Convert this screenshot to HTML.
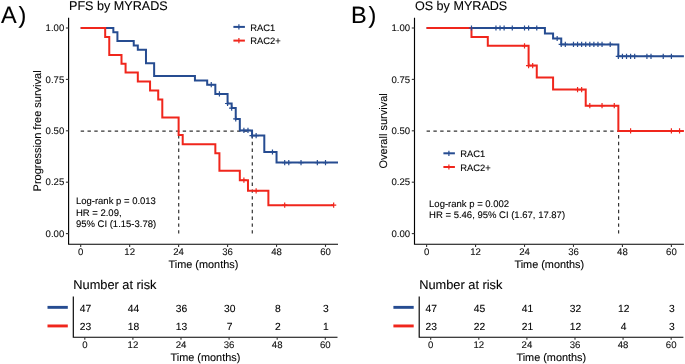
<!DOCTYPE html>
<html><head><meta charset="utf-8"><style>
html,body{margin:0;padding:0;background:#fff;}
svg{display:block;will-change:transform;}
.t{font-family:"Liberation Sans", sans-serif;fill:#000;text-rendering:geometricPrecision;stroke:#000;stroke-width:0.1px;}
.tk{fill:#111;}
</style></head><body>
<svg width="685" height="364" viewBox="0 0 685 364">
<rect width="685" height="364" fill="#fff"/>
<g>
<text x="0.9" y="22.7" font-size="23.5" class="t">A</text>
<text x="18.6" y="22.7" font-size="23.5" class="t">)</text>
<text x="351.0" y="22.7" font-size="23.5" class="t">B</text>
<text x="368.6" y="22.7" font-size="23.5" class="t">)</text>
<g id="A">
<text x="69.00" y="9.90" font-size="12.6" class="t">PFS by MYRADS</text>
<path d="M80.70,131.10H252.30" stroke="#333333" stroke-width="1.2" stroke-dasharray="3.4 3.4" fill="none"/>
<path d="M178.70,233.60V131.10" stroke="#333333" stroke-width="1.2" stroke-dasharray="3.4 3.4" fill="none"/>
<path d="M252.30,233.60V131.10" stroke="#333333" stroke-width="1.2" stroke-dasharray="3.4 3.4" fill="none"/>
<path d="M68.60,17.70V244.20H338.00" stroke="#000" stroke-width="1.15" fill="none"/>
<path d="M65.90,233.60H68.60" stroke="#333" stroke-width="1.1"/>
<text x="64.30" y="236.80" font-size="9.6" class="t tk" text-anchor="end">0.00</text>
<path d="M65.90,182.20H68.60" stroke="#333" stroke-width="1.1"/>
<text x="64.30" y="185.40" font-size="9.6" class="t tk" text-anchor="end">0.25</text>
<path d="M65.90,130.80H68.60" stroke="#333" stroke-width="1.1"/>
<text x="64.30" y="134.00" font-size="9.6" class="t tk" text-anchor="end">0.50</text>
<path d="M65.90,79.40H68.60" stroke="#333" stroke-width="1.1"/>
<text x="64.30" y="82.60" font-size="9.6" class="t tk" text-anchor="end">0.75</text>
<path d="M65.90,28.00H68.60" stroke="#333" stroke-width="1.1"/>
<text x="64.30" y="31.20" font-size="9.6" class="t tk" text-anchor="end">1.00</text>
<path d="M80.70,244.20V246.90" stroke="#333" stroke-width="1.1"/>
<text x="80.70" y="255.40" font-size="9.6" class="t tk" text-anchor="middle">0</text>
<path d="M129.66,244.20V246.90" stroke="#333" stroke-width="1.1"/>
<text x="129.66" y="255.40" font-size="9.6" class="t tk" text-anchor="middle">12</text>
<path d="M178.62,244.20V246.90" stroke="#333" stroke-width="1.1"/>
<text x="178.62" y="255.40" font-size="9.6" class="t tk" text-anchor="middle">24</text>
<path d="M227.58,244.20V246.90" stroke="#333" stroke-width="1.1"/>
<text x="227.58" y="255.40" font-size="9.6" class="t tk" text-anchor="middle">36</text>
<path d="M276.54,244.20V246.90" stroke="#333" stroke-width="1.1"/>
<text x="276.54" y="255.40" font-size="9.6" class="t tk" text-anchor="middle">48</text>
<path d="M325.50,244.20V246.90" stroke="#333" stroke-width="1.1"/>
<text x="325.50" y="255.40" font-size="9.6" class="t tk" text-anchor="middle">60</text>
<text x="203.40" y="267.70" font-size="10.9" class="t" text-anchor="middle">Time (months)</text>
<text transform="translate(41.2,130.9) rotate(-90)" font-size="11" class="t" text-anchor="middle">Progression free survival</text>
<text x="75.90" y="203.90" font-size="9.5" class="t">Log-rank p = 0.013</text>
<text x="75.90" y="215.60" font-size="9.5" class="t">HR = 2.09,</text>
<text x="75.90" y="227.30" font-size="9.5" class="t">95% CI (1.15-3.78)</text>
<path d="M233.40,26.90H244.90" stroke="#264c91" stroke-width="2"/>
<path d="M238.90,24.30V29.50" stroke="#264c91" stroke-width="1.2"/>
<text x="250.20" y="30.50" font-size="9.4" class="t">RAC1</text>
<path d="M233.40,40.60H244.90" stroke="#f0261c" stroke-width="2"/>
<path d="M238.90,38.00V43.20" stroke="#f0261c" stroke-width="1.2"/>
<text x="250.20" y="44.20" font-size="9.4" class="t">RAC2+</text>
<text x="73.30" y="289.20" font-size="12.8" class="t">Number at risk</text>
<path d="M73.3,296.4V337.2H337.5" stroke="#000" stroke-width="1.15" fill="none"/>
<rect x="47.5" y="305.9" width="20.3" height="2.9" fill="#264c91"/>
<rect x="47.5" y="324.5" width="20.3" height="2.9" fill="#f0261c"/>
<text x="85.40" y="311.50" font-size="10.3" class="t" text-anchor="middle">47</text>
<text x="85.40" y="329.90" font-size="10.3" class="t" text-anchor="middle">23</text>
<path d="M84.80,337.2V339.8" stroke="#333" stroke-width="1.1"/>
<text x="84.80" y="348.30" font-size="9.6" class="t tk" text-anchor="middle">0</text>
<text x="133.50" y="311.50" font-size="10.3" class="t" text-anchor="middle">44</text>
<text x="133.50" y="329.90" font-size="10.3" class="t" text-anchor="middle">18</text>
<path d="M132.90,337.2V339.8" stroke="#333" stroke-width="1.1"/>
<text x="132.90" y="348.30" font-size="9.6" class="t tk" text-anchor="middle">12</text>
<text x="181.59" y="311.50" font-size="10.3" class="t" text-anchor="middle">36</text>
<text x="181.59" y="329.90" font-size="10.3" class="t" text-anchor="middle">13</text>
<path d="M180.99,337.2V339.8" stroke="#333" stroke-width="1.1"/>
<text x="180.99" y="348.30" font-size="9.6" class="t tk" text-anchor="middle">24</text>
<text x="229.69" y="311.50" font-size="10.3" class="t" text-anchor="middle">30</text>
<text x="229.69" y="329.90" font-size="10.3" class="t" text-anchor="middle">7</text>
<path d="M229.09,337.2V339.8" stroke="#333" stroke-width="1.1"/>
<text x="229.09" y="348.30" font-size="9.6" class="t tk" text-anchor="middle">36</text>
<text x="277.78" y="311.50" font-size="10.3" class="t" text-anchor="middle">8</text>
<text x="277.78" y="329.90" font-size="10.3" class="t" text-anchor="middle">2</text>
<path d="M277.18,337.2V339.8" stroke="#333" stroke-width="1.1"/>
<text x="277.18" y="348.30" font-size="9.6" class="t tk" text-anchor="middle">48</text>
<text x="325.88" y="311.50" font-size="10.3" class="t" text-anchor="middle">3</text>
<text x="325.88" y="329.90" font-size="10.3" class="t" text-anchor="middle">1</text>
<path d="M325.28,337.2V339.8" stroke="#333" stroke-width="1.1"/>
<text x="325.28" y="348.30" font-size="9.6" class="t tk" text-anchor="middle">60</text>
<text x="205.40" y="360.50" font-size="10.9" class="t" text-anchor="middle">Time (months)</text>
<path d="M80.70,28.00H113.34V32.30H117.42V40.90H133.74V45.50H137.82V49.70H145.98V63.20H154.14V76.00H194.94V80.60H207.18V84.70H215.34V93.90H227.58V103.50H231.66V108.10H235.74V118.90H239.82V130.40H252.06V135.60H264.30V152.00H276.54V162.60H338.00" stroke="#264c91" stroke-width="2.0" fill="none" stroke-linejoin="miter"/>
<path d="M80.70,28.00H105.18V36.90H109.26V54.90H121.50V63.70H125.58V72.60H137.82V81.40H150.06V90.50H158.22V99.50H162.30V117.40H178.62V135.00H182.70V144.20H215.34V153.20H219.42V170.70H239.82V180.20H247.98V190.80H268.38V205.20H333.66" stroke="#f0261c" stroke-width="2.0" fill="none" stroke-linejoin="miter"/>
<path d="M208.66,84.70H213.86M211.26,82.10V87.30" stroke="#264c91" stroke-width="1.2" fill="none"/>
<path d="M216.82,93.90H222.02M219.42,91.30V96.50" stroke="#264c91" stroke-width="1.2" fill="none"/>
<path d="M224.98,103.50H230.18M227.58,100.90V106.10" stroke="#264c91" stroke-width="1.2" fill="none"/>
<path d="M229.06,108.10H234.26M231.66,105.50V110.70" stroke="#264c91" stroke-width="1.2" fill="none"/>
<path d="M233.14,118.90H238.34M235.74,116.30V121.50" stroke="#264c91" stroke-width="1.2" fill="none"/>
<path d="M241.30,130.40H246.50M243.90,127.80V133.00" stroke="#264c91" stroke-width="1.2" fill="none"/>
<path d="M245.38,130.40H250.58M247.98,127.80V133.00" stroke="#264c91" stroke-width="1.2" fill="none"/>
<path d="M249.46,135.60H254.66M252.06,133.00V138.20" stroke="#264c91" stroke-width="1.2" fill="none"/>
<path d="M253.54,135.60H258.74M256.14,133.00V138.20" stroke="#264c91" stroke-width="1.2" fill="none"/>
<path d="M269.86,152.00H275.06M272.46,149.40V154.60" stroke="#264c91" stroke-width="1.2" fill="none"/>
<path d="M282.10,162.60H287.30M284.70,160.00V165.20" stroke="#264c91" stroke-width="1.2" fill="none"/>
<path d="M286.18,162.60H291.38M288.78,160.00V165.20" stroke="#264c91" stroke-width="1.2" fill="none"/>
<path d="M298.42,162.60H303.62M301.02,160.00V165.20" stroke="#264c91" stroke-width="1.2" fill="none"/>
<path d="M314.74,162.60H319.94M317.34,160.00V165.20" stroke="#264c91" stroke-width="1.2" fill="none"/>
<path d="M322.90,162.60H328.10M325.50,160.00V165.20" stroke="#264c91" stroke-width="1.2" fill="none"/>
<path d="M241.30,180.20H246.50M243.90,177.60V182.80" stroke="#f0261c" stroke-width="1.2" fill="none"/>
<path d="M253.54,190.80H258.74M256.14,188.20V193.40" stroke="#f0261c" stroke-width="1.2" fill="none"/>
<path d="M282.10,205.20H287.30M284.70,202.60V207.80" stroke="#f0261c" stroke-width="1.2" fill="none"/>
<path d="M331.06,205.20H336.26M333.66,202.60V207.80" stroke="#f0261c" stroke-width="1.2" fill="none"/>
</g>
<g id="B" transform="translate(345.9,0)">
<text x="69.00" y="9.90" font-size="12.6" class="t">OS by MYRADS</text>
<path d="M80.70,131.10H272.70" stroke="#333333" stroke-width="1.2" stroke-dasharray="3.4 3.4" fill="none"/>
<path d="M272.70,233.60V131.10" stroke="#333333" stroke-width="1.2" stroke-dasharray="3.4 3.4" fill="none"/>
<path d="M68.60,17.70V244.20H338.00" stroke="#000" stroke-width="1.15" fill="none"/>
<path d="M65.90,233.60H68.60" stroke="#333" stroke-width="1.1"/>
<text x="64.30" y="236.80" font-size="9.6" class="t tk" text-anchor="end">0.00</text>
<path d="M65.90,182.20H68.60" stroke="#333" stroke-width="1.1"/>
<text x="64.30" y="185.40" font-size="9.6" class="t tk" text-anchor="end">0.25</text>
<path d="M65.90,130.80H68.60" stroke="#333" stroke-width="1.1"/>
<text x="64.30" y="134.00" font-size="9.6" class="t tk" text-anchor="end">0.50</text>
<path d="M65.90,79.40H68.60" stroke="#333" stroke-width="1.1"/>
<text x="64.30" y="82.60" font-size="9.6" class="t tk" text-anchor="end">0.75</text>
<path d="M65.90,28.00H68.60" stroke="#333" stroke-width="1.1"/>
<text x="64.30" y="31.20" font-size="9.6" class="t tk" text-anchor="end">1.00</text>
<path d="M80.70,244.20V246.90" stroke="#333" stroke-width="1.1"/>
<text x="80.70" y="255.40" font-size="9.6" class="t tk" text-anchor="middle">0</text>
<path d="M129.66,244.20V246.90" stroke="#333" stroke-width="1.1"/>
<text x="129.66" y="255.40" font-size="9.6" class="t tk" text-anchor="middle">12</text>
<path d="M178.62,244.20V246.90" stroke="#333" stroke-width="1.1"/>
<text x="178.62" y="255.40" font-size="9.6" class="t tk" text-anchor="middle">24</text>
<path d="M227.58,244.20V246.90" stroke="#333" stroke-width="1.1"/>
<text x="227.58" y="255.40" font-size="9.6" class="t tk" text-anchor="middle">36</text>
<path d="M276.54,244.20V246.90" stroke="#333" stroke-width="1.1"/>
<text x="276.54" y="255.40" font-size="9.6" class="t tk" text-anchor="middle">48</text>
<path d="M325.50,244.20V246.90" stroke="#333" stroke-width="1.1"/>
<text x="325.50" y="255.40" font-size="9.6" class="t tk" text-anchor="middle">60</text>
<text x="203.40" y="267.70" font-size="10.9" class="t" text-anchor="middle">Time (months)</text>
<text transform="translate(41.2,130.9) rotate(-90)" font-size="11" class="t" text-anchor="middle">Overall survival</text>
<text x="83.20" y="206.70" font-size="9.5" class="t">Log-rank p = 0.002</text>
<text x="83.20" y="217.90" font-size="9.5" class="t">HR = 5.46, 95% CI (1.67, 17.87)</text>
<path d="M97.50,153.30H109.00" stroke="#264c91" stroke-width="2"/>
<path d="M103.00,150.70V155.90" stroke="#264c91" stroke-width="1.2"/>
<text x="114.30" y="156.90" font-size="9.4" class="t">RAC1</text>
<path d="M97.50,167.00H109.00" stroke="#f0261c" stroke-width="2"/>
<path d="M103.00,164.40V169.60" stroke="#f0261c" stroke-width="1.2"/>
<text x="114.30" y="170.60" font-size="9.4" class="t">RAC2+</text>
<text x="73.30" y="289.20" font-size="12.8" class="t">Number at risk</text>
<path d="M73.3,296.4V337.2H337.5" stroke="#000" stroke-width="1.15" fill="none"/>
<rect x="47.5" y="305.9" width="20.3" height="2.9" fill="#264c91"/>
<rect x="47.5" y="324.5" width="20.3" height="2.9" fill="#f0261c"/>
<text x="85.40" y="311.50" font-size="10.3" class="t" text-anchor="middle">47</text>
<text x="85.40" y="329.90" font-size="10.3" class="t" text-anchor="middle">23</text>
<path d="M84.80,337.2V339.8" stroke="#333" stroke-width="1.1"/>
<text x="84.80" y="348.30" font-size="9.6" class="t tk" text-anchor="middle">0</text>
<text x="133.50" y="311.50" font-size="10.3" class="t" text-anchor="middle">45</text>
<text x="133.50" y="329.90" font-size="10.3" class="t" text-anchor="middle">22</text>
<path d="M132.90,337.2V339.8" stroke="#333" stroke-width="1.1"/>
<text x="132.90" y="348.30" font-size="9.6" class="t tk" text-anchor="middle">12</text>
<text x="181.59" y="311.50" font-size="10.3" class="t" text-anchor="middle">41</text>
<text x="181.59" y="329.90" font-size="10.3" class="t" text-anchor="middle">21</text>
<path d="M180.99,337.2V339.8" stroke="#333" stroke-width="1.1"/>
<text x="180.99" y="348.30" font-size="9.6" class="t tk" text-anchor="middle">24</text>
<text x="229.69" y="311.50" font-size="10.3" class="t" text-anchor="middle">32</text>
<text x="229.69" y="329.90" font-size="10.3" class="t" text-anchor="middle">12</text>
<path d="M229.09,337.2V339.8" stroke="#333" stroke-width="1.1"/>
<text x="229.09" y="348.30" font-size="9.6" class="t tk" text-anchor="middle">36</text>
<text x="277.78" y="311.50" font-size="10.3" class="t" text-anchor="middle">12</text>
<text x="277.78" y="329.90" font-size="10.3" class="t" text-anchor="middle">4</text>
<path d="M277.18,337.2V339.8" stroke="#333" stroke-width="1.1"/>
<text x="277.18" y="348.30" font-size="9.6" class="t tk" text-anchor="middle">48</text>
<text x="325.88" y="311.50" font-size="10.3" class="t" text-anchor="middle">3</text>
<text x="325.88" y="329.90" font-size="10.3" class="t" text-anchor="middle">3</text>
<path d="M325.28,337.2V339.8" stroke="#333" stroke-width="1.1"/>
<text x="325.28" y="348.30" font-size="9.6" class="t tk" text-anchor="middle">60</text>
<text x="205.40" y="360.50" font-size="10.9" class="t" text-anchor="middle">Time (months)</text>
<path d="M80.70,28.00H199.02V33.50H207.18V38.50H215.34V44.40H272.46V56.30H338.00" stroke="#264c91" stroke-width="2.0" fill="none" stroke-linejoin="miter"/>
<path d="M80.70,28.00H125.58V36.90H141.90V45.80H182.70V65.60H190.86V77.50H207.18V89.60H239.82V105.70H272.46V130.90H338.00" stroke="#f0261c" stroke-width="2.0" fill="none" stroke-linejoin="miter"/>
<path d="M122.98,28.00H128.18M125.58,25.40V30.60" stroke="#264c91" stroke-width="1.2" fill="none"/>
<path d="M147.46,28.00H152.66M150.06,25.40V30.60" stroke="#264c91" stroke-width="1.2" fill="none"/>
<path d="M151.54,28.00H156.74M154.14,25.40V30.60" stroke="#264c91" stroke-width="1.2" fill="none"/>
<path d="M155.62,28.00H160.82M158.22,25.40V30.60" stroke="#264c91" stroke-width="1.2" fill="none"/>
<path d="M163.78,28.00H168.98M166.38,25.40V30.60" stroke="#264c91" stroke-width="1.2" fill="none"/>
<path d="M176.02,28.00H181.22M178.62,25.40V30.60" stroke="#264c91" stroke-width="1.2" fill="none"/>
<path d="M180.10,28.00H185.30M182.70,25.40V30.60" stroke="#264c91" stroke-width="1.2" fill="none"/>
<path d="M188.26,28.00H193.46M190.86,25.40V30.60" stroke="#264c91" stroke-width="1.2" fill="none"/>
<path d="M208.66,38.50H213.86M211.26,35.90V41.10" stroke="#264c91" stroke-width="1.2" fill="none"/>
<path d="M212.74,44.40H217.94M215.34,41.80V47.00" stroke="#264c91" stroke-width="1.2" fill="none"/>
<path d="M216.82,44.40H222.02M219.42,41.80V47.00" stroke="#264c91" stroke-width="1.2" fill="none"/>
<path d="M224.98,44.40H230.18M227.58,41.80V47.00" stroke="#264c91" stroke-width="1.2" fill="none"/>
<path d="M229.06,44.40H234.26M231.66,41.80V47.00" stroke="#264c91" stroke-width="1.2" fill="none"/>
<path d="M233.14,44.40H238.34M235.74,41.80V47.00" stroke="#264c91" stroke-width="1.2" fill="none"/>
<path d="M237.22,44.40H242.42M239.82,41.80V47.00" stroke="#264c91" stroke-width="1.2" fill="none"/>
<path d="M241.30,44.40H246.50M243.90,41.80V47.00" stroke="#264c91" stroke-width="1.2" fill="none"/>
<path d="M245.38,44.40H250.58M247.98,41.80V47.00" stroke="#264c91" stroke-width="1.2" fill="none"/>
<path d="M249.46,44.40H254.66M252.06,41.80V47.00" stroke="#264c91" stroke-width="1.2" fill="none"/>
<path d="M253.54,44.40H258.74M256.14,41.80V47.00" stroke="#264c91" stroke-width="1.2" fill="none"/>
<path d="M261.70,44.40H266.90M264.30,41.80V47.00" stroke="#264c91" stroke-width="1.2" fill="none"/>
<path d="M269.86,56.30H275.06M272.46,53.70V58.90" stroke="#264c91" stroke-width="1.2" fill="none"/>
<path d="M273.94,56.30H279.14M276.54,53.70V58.90" stroke="#264c91" stroke-width="1.2" fill="none"/>
<path d="M278.02,56.30H283.22M280.62,53.70V58.90" stroke="#264c91" stroke-width="1.2" fill="none"/>
<path d="M282.10,56.30H287.30M284.70,53.70V58.90" stroke="#264c91" stroke-width="1.2" fill="none"/>
<path d="M286.18,56.30H291.38M288.78,53.70V58.90" stroke="#264c91" stroke-width="1.2" fill="none"/>
<path d="M298.42,56.30H303.62M301.02,53.70V58.90" stroke="#264c91" stroke-width="1.2" fill="none"/>
<path d="M302.50,56.30H307.70M305.10,53.70V58.90" stroke="#264c91" stroke-width="1.2" fill="none"/>
<path d="M314.74,56.30H319.94M317.34,53.70V58.90" stroke="#264c91" stroke-width="1.2" fill="none"/>
<path d="M322.90,56.30H328.10M325.50,53.70V58.90" stroke="#264c91" stroke-width="1.2" fill="none"/>
<path d="M176.02,45.80H181.22M178.62,43.20V48.40" stroke="#f0261c" stroke-width="1.2" fill="none"/>
<path d="M180.10,65.60H185.30M182.70,63.00V68.20" stroke="#f0261c" stroke-width="1.2" fill="none"/>
<path d="M184.18,65.60H189.38M186.78,63.00V68.20" stroke="#f0261c" stroke-width="1.2" fill="none"/>
<path d="M229.06,89.60H234.26M231.66,87.00V92.20" stroke="#f0261c" stroke-width="1.2" fill="none"/>
<path d="M233.14,89.60H238.34M235.74,87.00V92.20" stroke="#f0261c" stroke-width="1.2" fill="none"/>
<path d="M241.30,105.70H246.50M243.90,103.10V108.30" stroke="#f0261c" stroke-width="1.2" fill="none"/>
<path d="M253.54,105.70H258.74M256.14,103.10V108.30" stroke="#f0261c" stroke-width="1.2" fill="none"/>
<path d="M265.78,105.70H270.98M268.38,103.10V108.30" stroke="#f0261c" stroke-width="1.2" fill="none"/>
<path d="M282.10,130.90H287.30M284.70,128.30V133.50" stroke="#f0261c" stroke-width="1.2" fill="none"/>
<path d="M322.90,130.90H328.10M325.50,128.30V133.50" stroke="#f0261c" stroke-width="1.2" fill="none"/>
<path d="M331.06,130.90H336.26M333.66,128.30V133.50" stroke="#f0261c" stroke-width="1.2" fill="none"/>
</g>
</g>
</svg>
</body></html>
